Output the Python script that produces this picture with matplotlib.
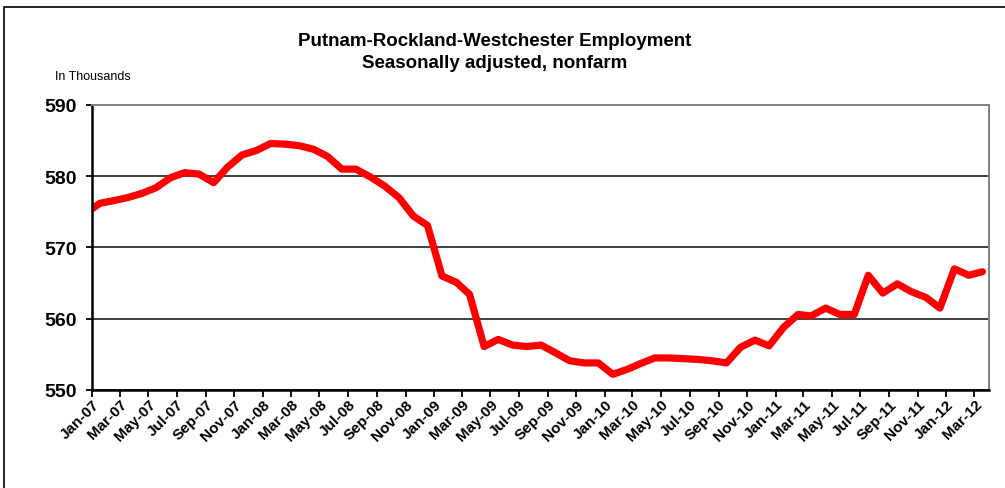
import pandas as pd
import matplotlib.pyplot as plt
import matplotlib.dates as mdates
from matplotlib.patches import Rectangle

plt.rcParams['font.family'] = ['Liberation Sans', 'DejaVu Sans']

# monthly values, Dec-06 .. Mar-12 (thousands)
months = pd.date_range('2006-12-01', '2012-03-01', freq='MS')
employment = [574.8, 576.2, 576.6, 577.0, 577.6, 578.4, 579.8, 580.5, 580.3, 579.1,
              581.3, 583.0, 583.6, 584.6, 584.5, 584.3, 583.8, 582.8, 581.0, 581.0,
              579.9, 578.6, 577.0, 574.4, 573.1, 566.0, 565.1, 563.4, 556.1, 557.1,
              556.3, 556.1, 556.3, 555.2, 554.1, 553.8, 553.8, 552.2, 552.9, 553.7,
              554.5, 554.5, 554.4, 554.3, 554.1, 553.8, 556.0, 557.0, 556.2, 558.8,
              560.6, 560.4, 561.5, 560.6, 560.6, 566.1, 563.6, 564.9, 563.8, 563.0,
              561.5, 567.0, 566.1, 566.6]
tick_months = pd.date_range('2007-01-01', '2012-03-01', freq='2MS')
y_ticks = [550, 560, 570, 580, 590]

fig = plt.figure(figsize=(10.05, 4.89), dpi=100)
fig.patches.append(Rectangle((4 / 1005, -0.1), 1.2, 1 - 8 / 489 + 0.1,
                             transform=fig.transFigure, fill=False,
                             edgecolor='black', lw=1.2))

ax = fig.add_axes([92 / 1005, 1 - 391 / 489, 897 / 1005, 285 / 489])

# points sit mid-month, ticks on the 1st
ax.plot(months + pd.Timedelta(days=17), employment, color='#ff0000', lw=5.2,
        solid_joinstyle='round', solid_capstyle='round')

ax.set_xlim(pd.Timestamp('2007-01-01'), pd.Timestamp('2012-04-01'))
ax.set_ylim(550, 590)
ax.set_yticks(y_ticks)
ax.set_xticks(tick_months)
ax.xaxis.set_major_formatter(mdates.DateFormatter('%b-%y'))

ax.set_axisbelow(True)
ax.yaxis.grid(True, color='#404040', lw=1.4)
for s in ['top', 'right']:
    ax.spines[s].set_color('#808080')
    ax.spines[s].set_linewidth(1.4)
for s in ['left', 'bottom']:
    ax.spines[s].set_color('black')
    ax.spines[s].set_linewidth(1.8)

ax.tick_params(axis='y', length=4, width=1.3, pad=7, labelsize=14)
ax.tick_params(axis='x', length=5, width=1.3, pad=0, labelsize=11)
for lbl in ax.get_yticklabels():
    lbl.set_fontweight('bold')
for lbl in ax.get_xticklabels():
    lbl.set_fontweight('bold')
    lbl.set_rotation(45)
    lbl.set_ha('right')
    lbl.set_rotation_mode('anchor')

fig.text(495 / 1005, 1 - 46.5 / 489, 'Putnam-Rockland-Westchester Employment',
         ha='center', va='baseline', fontsize=13.5, fontweight='bold')
fig.text(495 / 1005, 1 - 68 / 489, 'Seasonally adjusted, nonfarm',
         ha='center', va='baseline', fontsize=13.5, fontweight='bold')
fig.text(55 / 1005, 1 - 80 / 489, 'In Thousands', ha='left', va='baseline', fontsize=9)

plt.savefig('out.png', dpi=100)
